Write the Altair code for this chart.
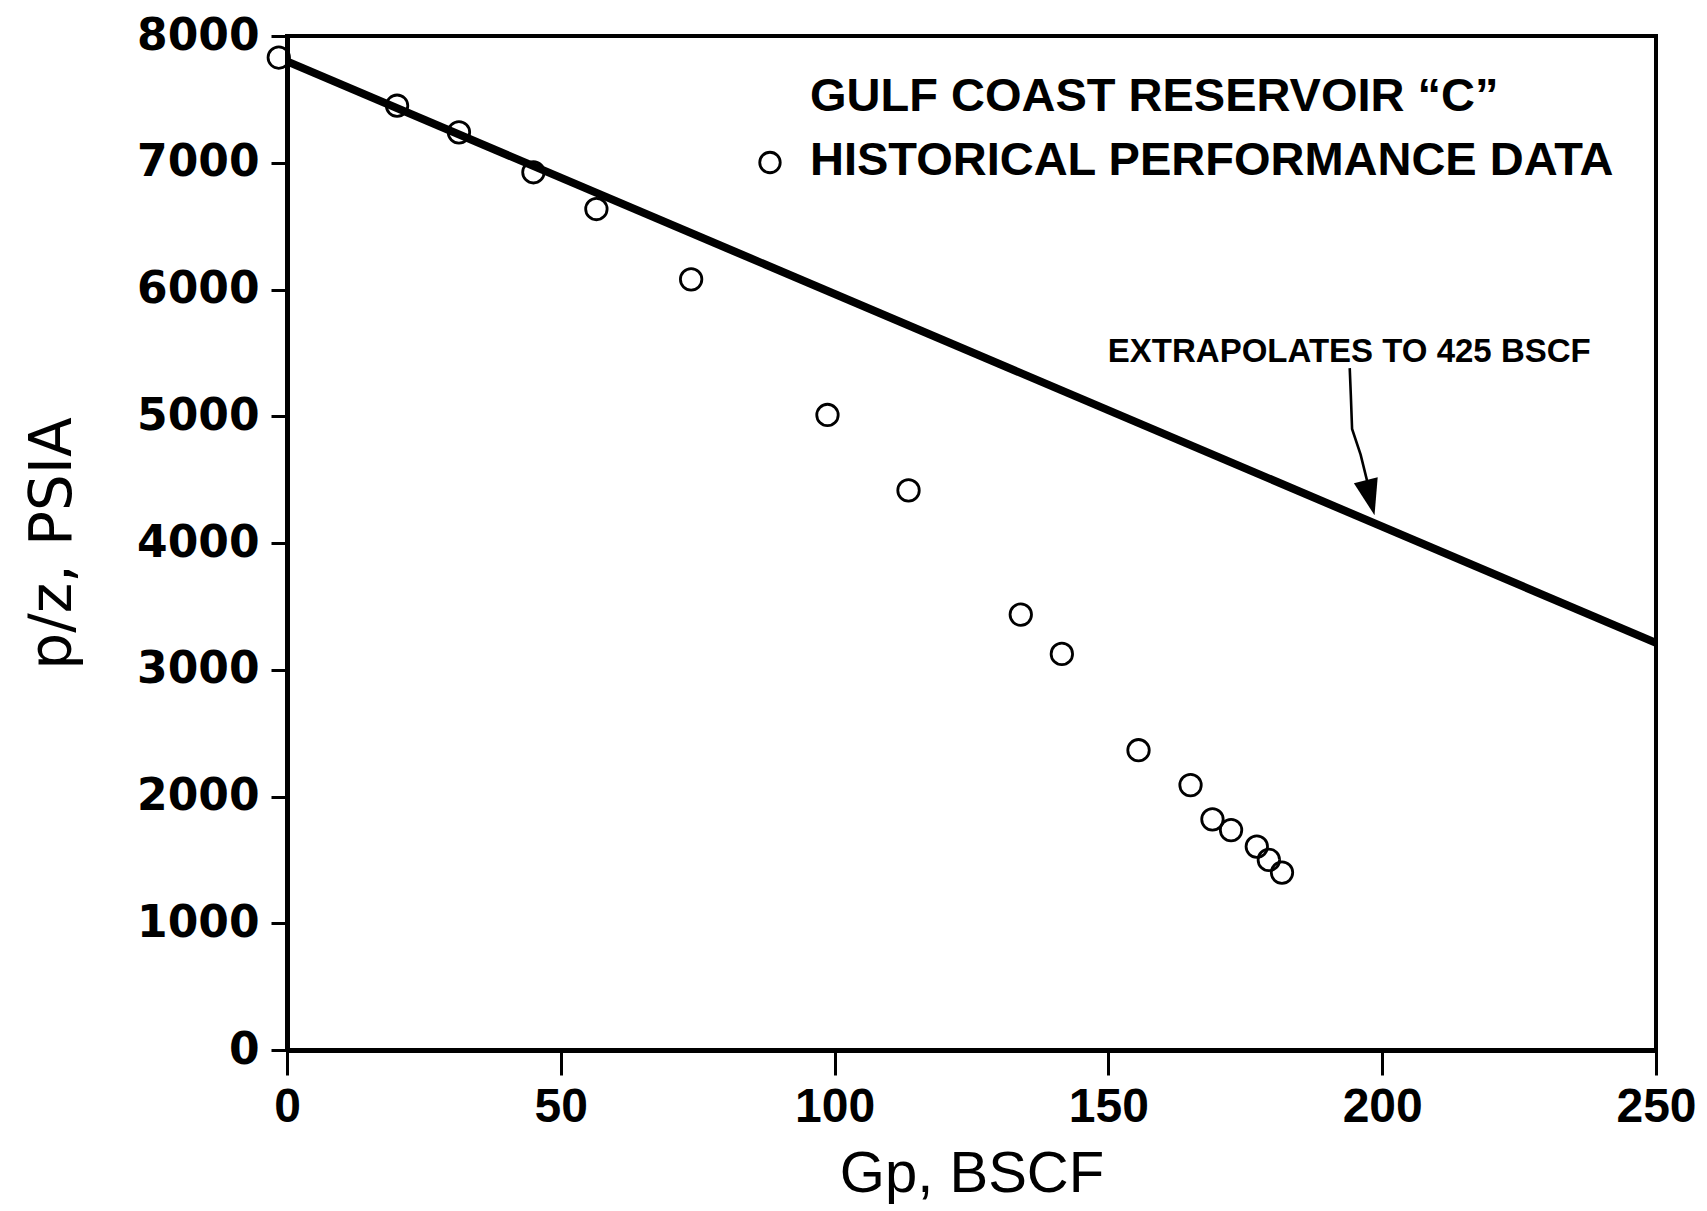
import altair as alt
import pandas as pd

# Historical performance data (Gp in BSCF, p/z in psia)
gp = [-1.5, 20.1, 31.4, 45.0, 56.5, 73.8, 98.7, 113.5, 134.0, 141.5,
      155.5, 165.0, 169.0, 172.4, 177.1, 179.3, 181.7]
pz = [7830, 7450, 7240, 6925, 6635, 6080, 5010, 4415, 3435, 3125,
      2365, 2090, 1820, 1735, 1605, 1500, 1400]

# Straight-line extrapolation (to 425 BSCF), drawn over the axis range
line_gp = [0, 250]
line_pz = [7800, 3212]

# Legend text block
legend_text = ["GULF COAST RESERVOIR \u201cC\u201d", "HISTORICAL PERFORMANCE DATA"]
legend_x = [95.5, 95.5]
legend_y = [7412, 6900]
legend_sym_x = [88.2]
legend_sym_y = [7002]

# Annotation
note_text = ["EXTRAPOLATES TO 425 BSCF"]
note_x = [149.9]
note_y = [5431]
arrow_x = [194.07, 194.27, 194.5, 196.06, 197.3]
arrow_y = [5380, 5167, 4900, 4697, 4480]
head_x = [197.8]
head_y = [4357]

x_ticks = [0, 50, 100, 150, 200, 250]
y_ticks = [0, 1000, 2000, 3000, 4000, 5000, 6000, 7000, 8000]

pts = pd.DataFrame({"gp": gp, "pz": pz})
ln = pd.DataFrame({"gp": line_gp, "pz": line_pz})
leg = pd.DataFrame({"t": legend_text, "gp": legend_x, "pz": legend_y})
legsym = pd.DataFrame({"gp": legend_sym_x, "pz": legend_sym_y})
note = pd.DataFrame({"t": note_text, "gp": note_x, "pz": note_y})
arr = pd.DataFrame({"gp": arrow_x, "pz": arrow_y, "o": list(range(len(arrow_x)))})
head = pd.DataFrame({"gp": head_x, "pz": head_y})

xs = alt.Scale(domain=[0, 250], nice=False, zero=False)
ys = alt.Scale(domain=[0, 8000], nice=False)

X = alt.X("gp:Q", scale=xs, axis=alt.Axis(
    title="Gp, BSCF", values=x_ticks, grid=False, format="d",
    labelFont="Liberation Sans", labelFontWeight="bold", labelFontSize=48,
    labelColor="black", labelPadding=8, labelFlush=False,
    tickSize=25, tickWidth=3, tickColor="black",
    domainColor="black", domainWidth=5,
    titleFont="Liberation Sans", titleFontSize=58, titleFontWeight="normal",
    titleColor="black", titlePadding=14))
Y = alt.Y("pz:Q", scale=ys, axis=alt.Axis(
    title="p/z, PSIA", values=y_ticks, grid=False, format="d",
    labelFont="DejaVu Sans", labelFontWeight="bold", labelFontSize=44,
    labelColor="black", labelPadding=12, labelFlush=False,
    tickSize=16, tickWidth=3, tickColor="black",
    domainColor="black", domainWidth=5,
    titleFont="DejaVu Sans", titleFontSize=58, titleFontWeight="normal",
    titleColor="black", titlePadding=54))

base_pts = alt.Chart(pts).mark_point(
    shape="circle", filled=False, size=460, stroke="black", strokeWidth=2.8, opacity=1
).encode(x=X, y=Y)

line = alt.Chart(ln).mark_line(color="black", strokeWidth=8).encode(
    x=alt.X("gp:Q", scale=xs), y=alt.Y("pz:Q", scale=ys))

leg_txt = alt.Chart(leg).mark_text(
    align="left", baseline="alphabetic", font="Liberation Sans", fontWeight="bold",
    fontSize=47, color="black").encode(
    x=alt.X("gp:Q", scale=xs), y=alt.Y("pz:Q", scale=ys), text="t:N")

leg_sym = alt.Chart(legsym).mark_point(
    shape="circle", filled=False, size=420, stroke="black", strokeWidth=2.8, opacity=1
).encode(x=alt.X("gp:Q", scale=xs), y=alt.Y("pz:Q", scale=ys))

note_txt = alt.Chart(note).mark_text(
    align="left", baseline="alphabetic", font="Liberation Sans", fontWeight="bold",
    fontSize=33, color="black").encode(
    x=alt.X("gp:Q", scale=xs), y=alt.Y("pz:Q", scale=ys), text="t:N")

arrow = alt.Chart(arr).mark_line(color="black", strokeWidth=2.6).encode(
    x=alt.X("gp:Q", scale=xs), y=alt.Y("pz:Q", scale=ys), order="o:Q")

arrow_head = alt.Chart(head).mark_point(
    shape="M-0.68,-1L0.68,-1L0,1Z", filled=True, size=1300, color="black",
    opacity=1, angle=346).encode(
    x=alt.X("gp:Q", scale=xs), y=alt.Y("pz:Q", scale=ys))

chart = alt.layer(line, base_pts, leg_txt, leg_sym, note_txt, arrow, arrow_head).properties(
    width=1369, height=1014,
    autosize=alt.AutoSizeParams(type="none"),
    padding={"left": 279, "top": 28, "right": 40, "bottom": 170},
    background="white",
).configure_view(stroke="black", strokeWidth=4)

chart.save("out.html", embed_options={"renderer": "svg", "actions": False})
